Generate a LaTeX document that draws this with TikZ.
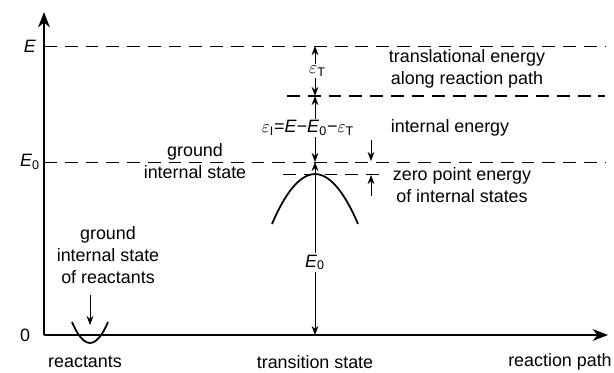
\documentclass[tikz,border=0pt]{standalone}
\usepackage{fontspec}
\setmainfont{Liberation Sans}
\usetikzlibrary{arrows.meta}

\begin{document}
\begin{tikzpicture}[
 x=0.022cm, y=-0.022cm,
 txt/.style={align=center, font=\fontsize{11.2}{13.7}\selectfont, inner sep=1pt},
 axis/.style={-{Stealth[length=3.4mm,width=2.6mm]}, line width=1.1pt},
 level/.style={dash pattern=on 8pt off 5pt, line width=0.5pt},
 boldlevel/.style={dash pattern=on 8pt off 5pt, line width=1.1pt},
 dim/.style={{Stealth[length=2mm,width=1.5mm]}-{Stealth[length=2mm,width=1.5mm]}, line width=0.5pt},
 arr/.style={-{Stealth[length=2mm,width=1.5mm]}, line width=0.5pt},
 curve/.style={line width=1.1pt}
]
\useasboundingbox (0,0) rectangle (614,372);

% axes
\coordinate (origin) at (44,335);
\coordinate (ytop) at (44,12);
\coordinate (xend) at (608,335);
\draw[axis] (origin) -- (ytop);
\draw[axis] (origin) -- (xend);

% energy levels
\coordinate (levE) at (44,46);
\coordinate (levEend) at (605,46);
\coordinate (levZero) at (44,162);
\coordinate (levZeroend) at (605,162);
\coordinate (levT) at (287,96);
\coordinate (levTend) at (605,96);
\coordinate (zpL) at (283,174);
\coordinate (zpR) at (384,174);
\draw[level] (levE) -- (levEend);
\draw[level] (levZero) -- (levZeroend);
\draw[boldlevel] (levT) -- (levTend);
\draw[level] (zpL) -- (zpR);

\node[txt] (labE) at (30,46) {\textit{E}};
\node[txt] (labEzero) at (30,162) {\textit{E}\textsubscript{0}};
\node[txt] (labzero) at (25,335) {0};

% transition state
\coordinate (eTop) at (315,46);
\coordinate (eMid) at (315,96);
\coordinate (eZero) at (315,162);
\coordinate (eBase) at (315,335);
\draw[dim] (eTop) -- node[txt, fill=white, xshift=1.5pt] {$\varepsilon$\textsubscript{T}} (eMid);
\draw[dim] (eMid) -- node[txt, fill=white, xshift=-4.4pt, pos=0.48] {$\varepsilon$\textsubscript{I}=\textit{E}−\textit{E}\textsubscript{0}−$\varepsilon$\textsubscript{T}} (eZero);
\draw[dim] (eZero) -- node[txt, fill=white, pos=0.58] {\textit{E}\textsubscript{0}} (eBase);
\draw[curve] (272,224) parabola bend (315,174) (358,224);

% zero point energy
\coordinate (zpTop) at (371,140);
\coordinate (zpTopTip) at (371,161);
\coordinate (zpBot) at (371,196);
\coordinate (zpBotTip) at (371,175);
\draw[arr] (zpTop) -- (zpTopTip);
\draw[arr] (zpBot) -- (zpBotTip);

% reactants
\draw[curve] (72,322) parabola bend (90,343) (108,322);
\coordinate (wellTop) at (90,295);
\coordinate (wellTip) at (90,325);
\draw[arr] (wellTop) -- (wellTip);

% labels
\node[txt] (ground) at (195,161) {ground\\internal state};
\node[txt] (groundreact) at (108,255) {ground\\internal state\\of reactants};
\node[txt] (transl) at (467,69) {translational energy\\along reaction path};
\node[txt] (internal) at (450,128) {internal energy};
\node[txt] (zeropoint) at (462,185) {zero point energy\\of internal states};
\node[txt] (reactants) at (85,362) {reactants};
\node[txt] (ts) at (315,362) {transition state};
\node[txt] (path) at (560,362) {reaction path};
\end{tikzpicture}
\end{document}
